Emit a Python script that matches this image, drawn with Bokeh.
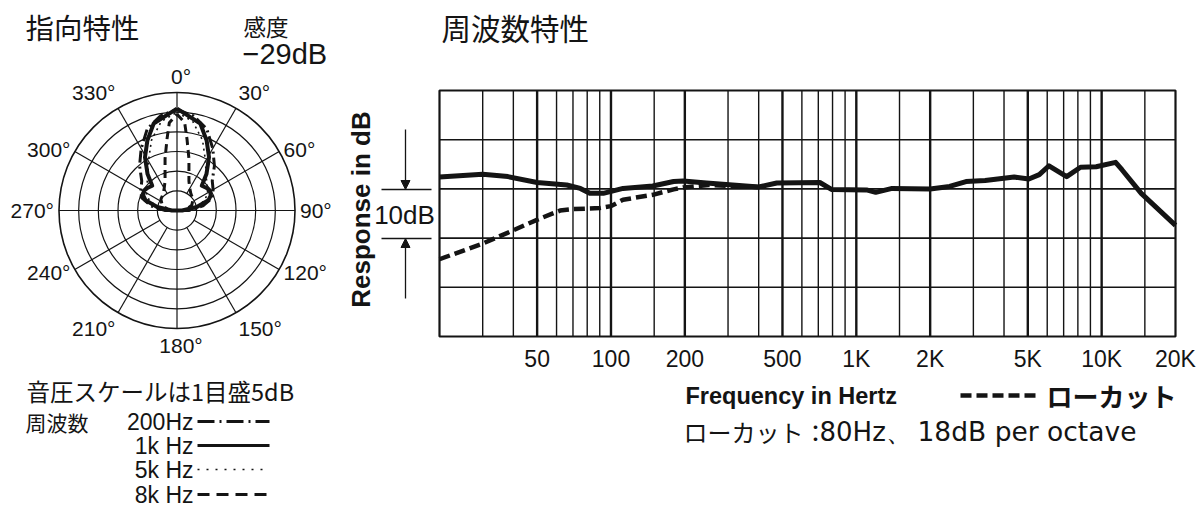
import numpy as np
from bokeh.plotting import figure
from bokeh.models import Range1d, LogScale, LinearScale, Label, Arrow, NormalHead
from bokeh.core.properties import value
from bokeh.embed import file_html
from bokeh.resources import INLINE

# ---------------- data ----------------
# polar pattern (dB relative, 0 dB = outer ring, 5 dB per ring)
ring_db = [-25, -20, -15, -10, -5, 0]
spoke_deg = [0, 30, 60, 90, 120, 150, 180, 210, 240, 270, 300, 330]
angle_labels = ["0°", "30°", "60°", "90°", "120°", "150°", "180°",
                "210°", "240°", "270°", "300°", "330°"]

ang_200 = [0, 10, 20, 30, 40, 50, 60, 70, 80, 90, 110]
db_200 = [-4.3, -5.6, -7.9, -11.8, -15.2, -18.3, -19.4, -20.4, -23.3, -27.0, -30.0]

ang_1k = [0, 15, 23, 31, 39, 45, 52, 59, 66, 72, 80, 90, 100]
db_1k = [-4.1, -7.1, -10.7, -14.2, -18.1, -21.1, -20.6, -20.2, -20.6, -21.6, -24.9, -28.7, -30.0]

ang_5k = [0, 10, 20, 30, 40, 50, 60, 70, 80, 90, 110]
db_5k = [-5.0, -7.0, -11.0, -15.5, -18.5, -20.0, -21.0, -22.5, -25.0, -28.0, -30.0]

ang_8k = [0, 5, 8, 13, 22, 30, 40, 55, 70, 90, 110]
db_8k = [-5.5, -7.6, -11.7, -16.5, -21.9, -23.5, -24.5, -25.0, -26.0, -28.0, -30.0]

# frequency response
freq_ticks = [50, 100, 200, 500, 1000, 2000, 5000, 10000, 20000]
freq_tick_labels = ["50", "100", "200", "500", "1K", "2K", "5K", "10K", "20K"]
grid_thick_freqs = [50, 100, 200, 500, 1000, 2000, 5000, 10000]
grid_thin_freqs = [30, 40, 60, 70, 80, 90, 150, 300, 400, 600, 700, 800, 900,
                   1500, 3000, 4000, 6000, 7000, 8000, 9000, 15000]
db_grid = [-20, -10, 0, 10]
F_MIN, F_MAX, DB_LO, DB_HI = 20, 20000, -30, 20

resp_freq = [20, 30, 38, 50, 66, 75, 82, 93, 112, 148, 180, 197, 245, 400, 474,
             710, 792, 1100, 1200, 1400, 2000, 2400, 2800, 3350, 4400, 5050,
             5570, 6100, 7200, 8200, 9500, 11400, 12100, 14500, 20000]
resp_db = [2.4, 3.0, 2.5, 1.3, 0.8, 0.1, -0.9, -0.9, 0.1, 0.6, 1.5, 1.6, 1.2, 0.4, 1.2,
           1.3, -0.1, -0.2, -0.7, 0.1, 0.0, 0.5, 1.5, 1.7, 2.4, 2.0,
           2.9, 4.7, 2.5, 4.4, 4.5, 5.4, 3.9, -0.9, -7.4]

lowcut_freq = [20, 30, 40, 51.5, 62, 70, 90, 100, 112, 148, 180, 197, 250, 400]
lowcut_db = [-14.3, -11.1, -8.4, -6.0, -4.4, -4.1, -3.9, -3.5, -2.2, -1.2, -0.1, 0.3, 0.8, 0.4]

INK = "#141414"
JP = "Noto Sans CJK JP"
LAT = "Liberation Sans"
WIDE = "DejaVu Sans"

W, H = 1200, 510
# ---- placement of the two panels (pixels) ----
CX, CY, R = 176.5, 210.0, 118.0              # polar centre / outer radius
FL, FR, FT, FB = 439.0, 1175.0, 90.0, 336.0  # frequency frame
K = R / 30.0                                  # px per dB in polar


def fx(px):
    return F_MIN * (F_MAX / F_MIN) ** ((px - FL) / (FR - FL))


def fy(py):
    return DB_HI - (py - FT) / (FB - FT) * (DB_HI - DB_LO)


p = figure(width=W, height=H, x_range=Range1d(0, W), y_range=Range1d(H, 0),
           output_backend="svg", toolbar_location=None, min_border=0,
           x_axis_location=None, y_axis_location=None)
p.xgrid.visible = False
p.ygrid.visible = False
p.outline_line_color = None
p.extra_x_ranges = {"pol_x": Range1d(-CX / K, (W - CX) / K),
                    "f": Range1d(fx(0), fx(W))}
p.extra_y_ranges = {"pol_y": Range1d((CY - H) / K, CY / K),
                    "db": Range1d(fy(H), fy(0))}
p.extra_x_scales = {"pol_x": LinearScale(), "f": LogScale()}
p.extra_y_scales = {"pol_y": LinearScale(), "db": LinearScale()}

POL = dict(x_range_name="pol_x", y_range_name="pol_y")
FRQ = dict(x_range_name="f", y_range_name="db")


# ---------------- polar panel ----------------
def rad(db):
    return np.asarray(db, dtype=float) + 30.0


def pattern_xy(ang, db):
    a = list(ang) + [360 - v for v in reversed(ang)]
    d = list(db) + list(reversed(db))
    r = rad(d)
    t = np.radians(a)
    return r * np.sin(t), r * np.cos(t)


radii = rad(ring_db)
p.circle(x=[0] * len(radii), y=[0] * len(radii), radius=radii,
         fill_color=None, line_color=INK,
         line_width=[1.2, 1.2, 1.2, 1.2, 1.2, 1.6], **POL)

x0, y0, x1, y1 = [], [], [], []
for d in spoke_deg:
    t = np.radians(d)
    r0 = 0.0 if d % 90 == 0 else radii[0]
    x0.append(r0 * np.sin(t)); y0.append(r0 * np.cos(t))
    x1.append(radii[-1] * np.sin(t)); y1.append(radii[-1] * np.cos(t))
p.segment(x0=x0, y0=y0, x1=x1, y1=y1, line_color=INK, line_width=1.2, **POL)

px_, py_ = pattern_xy(ang_5k, db_5k)
p.line(px_, py_, line_color=INK, line_width=1.6, line_dash="2 4", **POL)
px_, py_ = pattern_xy(ang_8k, db_8k)
p.line(px_, py_, line_color=INK, line_width=3, line_dash="8 5", **POL)
px_, py_ = pattern_xy(ang_200, db_200)
p.line(px_, py_, line_color=INK, line_width=3, line_dash="12 4 2 4", **POL)
px_, py_ = pattern_xy(ang_1k, db_1k)
p.line(px_, py_, line_color=INK, line_width=4, line_join="round", **POL)

# angle labels sit just outside the outer ring
gap = 5.0 / K
for d, lab in zip(spoke_deg, angle_labels):
    t = np.radians(d)
    s, c = np.sin(t), np.cos(t)
    rr = radii[-1] + gap
    if s > 0.3:
        align, dx = "left", 0.0
    elif s < -0.3:
        align, dx = "right", 0.0
    else:
        align, dx = "center", 4.0 / K
    base = "bottom" if c > 0.7 else ("top" if c < -0.7 else "middle")
    p.add_layout(Label(x=rr * s + dx, y=rr * c, text=lab, text_align=align,
                       text_baseline=base, text_font=LAT, text_font_size="21px",
                       text_color=INK, **POL))


def label(x, y, text, size, font=JP, **kw):
    p.add_layout(Label(x=x, y=y, text=text, text_font=font,
                       text_font_size=f"{size}px", text_color=INK,
                       text_baseline=kw.pop("baseline", "middle"), **kw))


label(25, 26, "指向特性", 28.5)
label(243, 25, "感度", 22.5)
label(242, 53, "−29dB", 29, font=LAT)
label(26, 390, "音圧スケールは1目盛5dB", 23.5)
label(25, 421, "周波数", 21)

leg_names = ["200Hz", "1k Hz", "5k Hz", "8k Hz"]
leg_y = [421, 445, 469, 494]
leg_dash = ["17 5 2 5", "solid", "2 7", "12 7"]
leg_w = [3, 3, 1.6, 3]
for name, yy, dsh, w in zip(leg_names, leg_y, leg_dash, leg_w):
    label(193, yy, name, 23, font=LAT, text_align="right")
    p.line(x=[197, 269], y=[yy, yy], line_color=INK, line_width=w, line_dash=dsh)

# ---------------- frequency response panel ----------------
p.segment(x0=grid_thin_freqs, y0=[DB_LO] * len(grid_thin_freqs),
          x1=grid_thin_freqs, y1=[DB_HI] * len(grid_thin_freqs),
          line_color=INK, line_width=1.4, **FRQ)
p.segment(x0=grid_thick_freqs, y0=[DB_LO] * len(grid_thick_freqs),
          x1=grid_thick_freqs, y1=[DB_HI] * len(grid_thick_freqs),
          line_color=INK, line_width=2.4, **FRQ)
p.segment(x0=[F_MIN] * len(db_grid), y0=db_grid, x1=[F_MAX] * len(db_grid), y1=db_grid,
          line_color=INK, line_width=1.6, **FRQ)
p.quad(left=[F_MIN], right=[F_MAX], bottom=[DB_LO], top=[DB_HI], fill_color=None,
       line_color=INK, line_width=2.2, **FRQ)

p.line(lowcut_freq, lowcut_db, line_color=INK, line_width=4.5, line_dash="11 5", **FRQ)
p.line(resp_freq, resp_db, line_color=INK, line_width=5, line_join="round", **FRQ)

p.text(x=freq_ticks, y=[fy(358)] * len(freq_ticks), text=freq_tick_labels,
       text_align="center", text_baseline="middle", text_font=value(LAT),
       text_font_size="23px", text_color=INK, **FRQ)

label(360, 209, "Response in dB", 26, font=LAT, angle=np.pi / 2,
      text_align="center", text_font_style="bold")
label(404, 214, "10dB", 26, font=LAT, text_align="center")
for yy in (189, 238):
    p.line(x=[381, 431], y=[yy, yy], line_color=INK, line_width=1.3)
p.add_layout(Arrow(x_start=405, y_start=129, x_end=405, y_end=189,
                   end=NormalHead(size=9, fill_color=INK, line_color=INK),
                   line_color=INK, line_width=1.3))
p.add_layout(Arrow(x_start=405, y_start=298, x_end=405, y_end=238,
                   end=NormalHead(size=9, fill_color=INK, line_color=INK),
                   line_color=INK, line_width=1.3))

label(441, 26, "周波数特性", 29.5)
label(685, 395, "Frequency in Hertz", 23.5, font=LAT, text_font_style="bold")
p.line(x=[960, 1038], y=[395, 395], line_color=INK, line_width=4.5, line_dash="11 5")
label(1046, 395, "ローカット", 26, text_font_style="bold")
label(683, 431, "ローカット：", 24)
label(819, 431, "80Hz、", 26, font=WIDE)
label(917, 431, "18dB per octave", 26.5, font=WIDE)

open("out.html", "w").write(file_html(p, INLINE))
